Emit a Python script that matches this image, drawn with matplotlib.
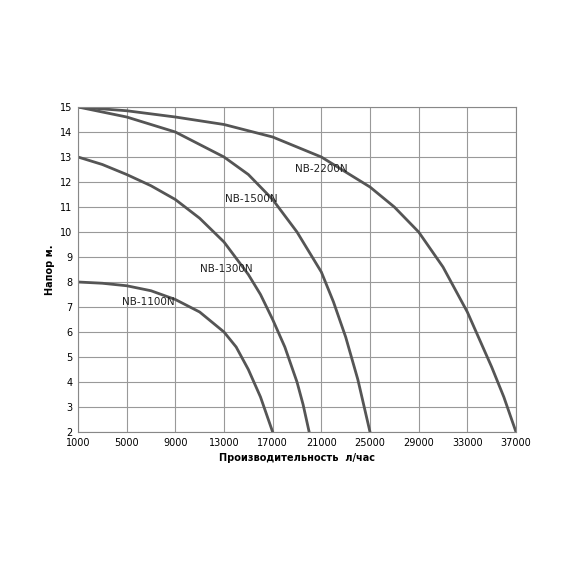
import matplotlib
matplotlib.use("Agg")
import matplotlib.pyplot as plt

x1100 = [1000, 3000, 5000, 7000, 9000, 11000, 13000, 14000, 15000, 16000, 17000]
y1100 = [8.0, 7.95, 7.85, 7.65, 7.3, 6.8, 6.0, 5.4, 4.5, 3.4, 2.0]
x1300 = [1000, 3000, 5000, 7000, 9000, 11000, 13000, 15000, 16000, 17000, 18000, 19000, 19500, 20000]
y1300 = [13.0, 12.7, 12.3, 11.85, 11.3, 10.55, 9.6, 8.3, 7.5, 6.5, 5.4, 4.0, 3.1, 2.0]
x1500 = [1000, 5000, 9000, 13000, 15000, 17000, 19000, 21000, 22000, 23000, 24000, 25000]
y1500 = [15.0, 14.6, 14.0, 13.0, 12.3, 11.3, 10.0, 8.4, 7.2, 5.8, 4.1, 2.0]
x2200 = [1000, 5000, 9000, 13000, 17000, 21000, 25000, 27000, 29000, 31000, 33000, 35000, 36000, 37000]
y2200 = [15.0, 14.85, 14.6, 14.3, 13.8, 13.0, 11.8, 11.0, 10.0, 8.6, 6.8, 4.6, 3.4, 2.0]

labels = ["NB-1100N", "NB-1300N", "NB-1500N", "NB-2200N"]
label_pos = [(4600, 7.2), (11000, 8.5), (13100, 11.3), (18800, 12.5)]
xticks = list(range(1000, 37001, 4000))
yticks = list(range(2, 16))

fig = plt.figure(figsize=(5.7, 5.7), dpi=100)
ax = fig.add_axes([78/570, 1-432/570, (516-78)/570, (432-107)/570])
for xs, ys in [(x1100, y1100), (x1300, y1300), (x1500, y1500), (x2200, y2200)]:
    ax.plot(xs, ys, color="#555555", lw=2)
for t, (px, py) in zip(labels, label_pos):
    ax.text(px, py, t, fontsize=7.5, color="#222222", va="center", ha="left")
ax.set_xlim(1000, 37000)
ax.set_ylim(2, 15)
ax.set_xticks(xticks)
ax.set_yticks(yticks)
ax.tick_params(labelsize=7, length=0, pad=4)
ax.grid(True, color="#999999", lw=0.8)
for s in ax.spines.values():
    s.set_color("#888888")
ax.set_xlabel("Производительность  л/час", fontsize=7, fontweight="bold")
ax.set_ylabel("Напор м.", fontsize=7, fontweight="bold")
fig.savefig("out.png", dpi=100)
